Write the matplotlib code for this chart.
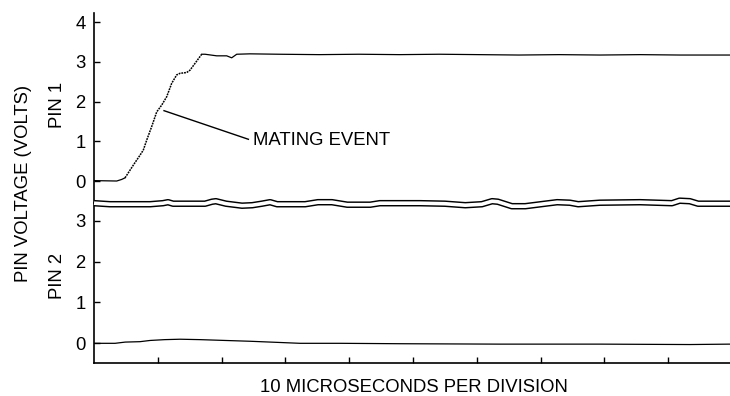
import numpy as np
import matplotlib.pyplot as plt

plt.rcParams['font.family'] = ['Liberation Sans', 'DejaVu Sans']

# time axis in microseconds (10 us per division)
pin1_t = [0.0, 3.56, 4.34, 4.86, 6.16, 7.21, 7.73, 8.26, 9.04, 9.83, 10.61, 11.39,
          12.18, 12.96, 13.48, 14.53, 15.05, 15.83, 16.88, 17.40, 19.23, 20.80, 21.58,
          22.37, 24.45, 29.0, 35.3, 41.5, 47.9, 54.1, 60.4, 66.6, 72.9, 79.3, 85.6, 91.9, 99.7]
pin1_v = [0.01, 0.0, 0.04, 0.08, 0.40, 0.65, 0.78, 1.03, 1.37, 1.74, 1.91, 2.12,
          2.46, 2.67, 2.71, 2.73, 2.79, 2.96, 3.19, 3.19, 3.15, 3.15, 3.10,
          3.19, 3.20, 3.19, 3.18, 3.19, 3.18, 3.19, 3.18, 3.17, 3.18, 3.17, 3.18, 3.17, 3.17]
rise_start, rise_end = 3, 18   # indices of the fast edge (drawn dotted)

pin2_t = [0.0, 3.3, 4.9, 7.2, 8.8, 11.1, 13.5, 16.6, 20.5, 24.5, 29.2, 32.3, 38.6,
          48.0, 63.6, 79.3, 93.4, 99.7]
pin2_v = [0.0, 0.0, 0.03, 0.04, 0.07, 0.09, 0.10, 0.09, 0.07, 0.05, 0.02, 0.0, 0.0,
          -0.01, -0.02, -0.02, -0.03, -0.02]

# wavy axis-break line (in PIN 1 axes coordinates)
break_t = [0, 2.5, 8.8, 10.8, 11.6, 12.4, 17.4, 18.5, 19.1, 20.7, 23.2, 24.8, 26.3,
           27.6, 28.7, 33.1, 35.1, 37.3, 39.7, 43.3, 44.8, 51.1, 55.0, 58.2, 60.8,
           62.4, 63.3, 65.5, 67.6, 70.7, 72.6, 74.6, 75.9, 79.3, 85.6, 90.6, 91.8,
           93.4, 94.7, 99.7]
break_v = [-0.558, -0.584, -0.584, -0.558, -0.533, -0.571, -0.571, -0.521, -0.508,
           -0.571, -0.621, -0.609, -0.571, -0.533, -0.584, -0.584, -0.533, -0.533,
           -0.596, -0.596, -0.558, -0.558, -0.571, -0.609, -0.584, -0.508, -0.521,
           -0.634, -0.634, -0.571, -0.533, -0.546, -0.584, -0.546, -0.533, -0.558,
           -0.495, -0.508, -0.571, -0.571]

fs = 13.3

fig = plt.figure(figsize=(7.3, 3.96), dpi=100)
ax2 = fig.add_axes([0.1288, 0.0841, 0.8712, 0.4045])
ax1 = fig.add_axes([0.1288, 0.4886, 0.8712, 0.4778])
ax1.set_zorder(3)
ax1.patch.set_visible(False)

ax1.plot(pin1_t[:rise_start + 1], pin1_v[:rise_start + 1], color='black', lw=0.9)
ax1.plot(pin1_t[rise_start:rise_end + 1], pin1_v[rise_start:rise_end + 1],
         color='black', lw=1.1, ls=(0, (1.2, 0.6)))
ax1.plot(pin1_t[rise_end:], pin1_v[rise_end:], color='black', lw=0.9)
ax2.plot(pin2_t, pin2_v, color='black', lw=0.9)

ax1.set_xlim(0, 99.7)
ax2.set_xlim(0, 99.7)
ax1.set_ylim(-0.541, 4.22)
ax2.set_ylim(-0.474, 3.443)

ax1.set_yticks([0, 1, 2, 3, 4])
ax2.set_yticks([0, 1, 2, 3])
ax1.set_xticks([])
ax2.set_xticks(np.arange(10, 100, 10))
ax2.set_xticklabels([])

for ax in (ax1, ax2):
    for s in ('top', 'right'):
        ax.spines[s].set_visible(False)
    ax.spines['left'].set_linewidth(1.2)
    ax.tick_params(direction='in', length=4, width=1.0, labelsize=fs, pad=6)
ax1.spines['bottom'].set_visible(False)
ax2.spines['bottom'].set_linewidth(1.2)

# break marks: black band with a white core gives the double line
ax1.plot(break_t, break_v, color='black', lw=4.7, clip_on=False, zorder=10,
         solid_capstyle='butt')
ax1.plot(break_t, break_v, color='white', lw=2.6, clip_on=False, zorder=11,
         solid_capstyle='butt')

# annotation
ax1.plot([10.97, 24.2], [1.77, 1.05], color='black', lw=1.0)
ax1.text(24.9, 1.03, 'MATING EVENT', fontsize=fs, ha='left', va='center')

fig.text(24 / 730, 1 - 183 / 396, 'PIN VOLTAGE (VOLTS)', rotation=90,
         ha='center', va='center', fontsize=fs)
fig.text(57 / 730, 1 - 105 / 396, 'PIN 1', rotation=90, ha='center', va='center', fontsize=fs)
fig.text(57 / 730, 1 - 276 / 396, 'PIN 2', rotation=90, ha='center', va='center', fontsize=fs)
fig.text(414 / 730, 1 - 387 / 396, '10 MICROSECONDS PER DIVISION', ha='center',
         va='center', fontsize=fs)

fig.savefig('out.png', dpi=100)
